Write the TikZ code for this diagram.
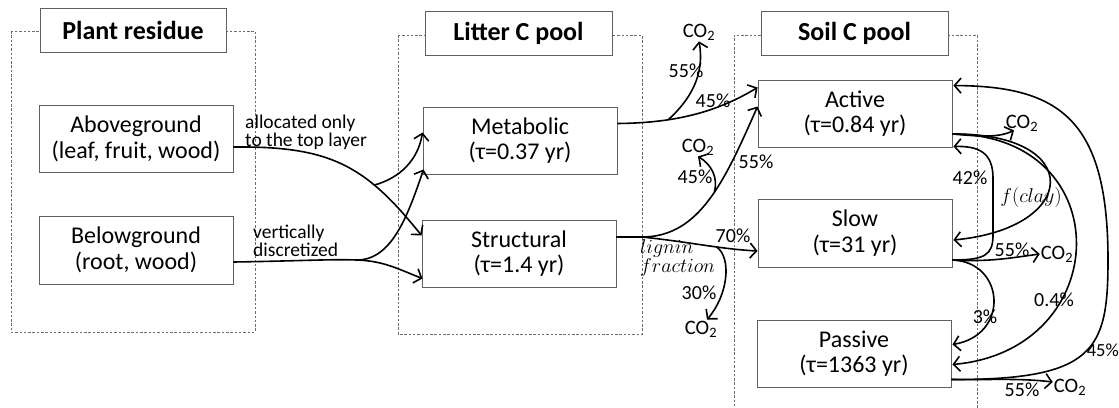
\documentclass[tikz,border=0pt]{standalone}
\usepackage{fix-cm}
\usepackage{fontspec}
\setmainfont{Carlito}
\usetikzlibrary{arrows.meta,calc}
\begin{document}
\begin{tikzpicture}[x=1pt,y=-1pt,
  frame/.style={draw=gray!85!black, line width=0.7pt, dash pattern=on 2.5pt off 1.8pt},
  titlebox/.style={draw=gray!75!black, line width=0.9pt, fill=white, minimum width=187pt, minimum height=44pt, font=\fontsize{26}{30}\selectfont\bfseries, inner sep=0pt},
  pool/.style={draw=gray!75!black, line width=0.9pt, fill=white, minimum width=194pt, minimum height=67pt, align=center, font=\fontsize{24}{25.5}\selectfont, inner sep=0pt},
  flow/.style={line width=1.6pt, -{Straight Barb[length=6.5pt,width=15pt]}},
  plain/.style={line width=1.6pt},
  lbl/.style={font=\fontsize{20}{20}\selectfont, inner sep=0pt},
  co2/.style={font=\fontsize{20.5}{20.5}\selectfont, inner sep=1pt},
  note/.style={font=\fontsize{19.5}{15}\selectfont, align=left, inner sep=0pt},
  mnote/.style={font=\fontsize{20}{17}\selectfont, align=left, inner sep=0pt},
]
\useasboundingbox (0,0) rectangle (1119,407);

% group frames
\draw[frame] (11,31) rectangle (255,332);
\draw[frame] (398,35) rectangle (642,334);
\draw[frame] (734,415) -- (734,35) -- (977,35) -- (977,415);

% titles
\node[titlebox, minimum width=186pt] (tplant) at (133,30.5) {Plant residue};
\node[titlebox] (tlitter) at (518.5,33) {Litter C pool};
\node[titlebox] (tsoil) at (854.5,33) {Soil C pool};

% pools
\node[pool] (ag) at (136,139) {Aboveground\\(leaf, fruit, wood)};
\node[pool, minimum height=68pt] (bg) at (136,250) {Belowground\\(root, wood)};
\node[pool] (met) at (520,140.5) {Metabolic\\(τ=0.37 yr)};
\node[pool] (str) at (519,253.5) {Structural\\(τ=1.4 yr)};
\node[pool] (act) at (855,113.5) {Active\\(τ=0.84 yr)};
\node[pool, minimum height=68pt] (slow) at (855,233) {Slow\\(τ=31 yr)};
\node[pool] (pas) at (854,353.5) {Passive\\(τ=1363 yr)};

% CO2 sinks
\node[co2] (co2a) at (699,32) {CO\textsubscript{2}};
\node[co2] (co2b) at (698,147) {CO\textsubscript{2}};
\node[co2] (co2c) at (701,329) {CO\textsubscript{2}};
\node[co2] (co2d) at (1022,123) {CO\textsubscript{2}};
\node[co2] (co2e) at (1057,254) {CO\textsubscript{2}};
\node[co2] (co2f) at (1070,387) {CO\textsubscript{2}};

% notes
\node[note, anchor=west] (nag) at (245,132) {allocated only\\to the top layer};
\node[note, anchor=west] (nbg) at (253,241) {vertically\\discretized};
\node[mnote, anchor=west] (nlig) at (640,258) {$lignin$\\$fraction$};

% plant residue -> litter
\draw[flow] ($(ag.east)+(0,8)$) .. controls (330,146) and (365,165) .. ($(str.west)+(0,-18)$) coordinate[pos=0.7] (agsplit);
\draw[flow] (agsplit) .. controls (400,178) and (418,160) .. ($(met.west)+(0,-8)$);
\draw[plain] ($(bg.east)+(0,12)$) .. controls (300,261) and (330,259) .. (357,260) coordinate (bgsplit);
\draw[flow] (bgsplit) .. controls (385,261) and (400,270) .. ($(str.west)+(1,25)$);
\draw[flow] (bgsplit) .. controls (392,260) and (408,215) .. ($(met.south west)+(1,-5)$);

% metabolic
\draw[flow] ($(met.east)+(0,-17)$) .. controls (680,123) and (720,110) .. ($(act.west)+(0,-26)$) coordinate[pos=0.3] (metsplit);
\draw[flow] (metsplit) .. controls (690,100) and (705,75) .. (co2a.south);
\node[lbl] (l55a) at (686,71) {55\%};
\node[lbl] (l45a) at (713,101) {45\%};

% structural
\coordinate (strsplit) at (642,237);
\draw[plain] ($(str.east)+(0,-16.5)$) -- (strsplit);
\draw[flow] (strsplit) .. controls (700,237) and (725,180) .. ($(act.west)+(0,-7)$) coordinate[pos=0.55] (strup);
\draw[flow] (strup) .. controls (718,178) and (712,165) .. (co2b.south);
\draw[flow] (strsplit) .. controls (690,242) and (720,249) .. ($(slow.west)+(0,18)$) coordinate[pos=0.62] (strdown);
\draw[flow] (strdown) .. controls (732,258) and (728,295) .. ($(co2c.north)+(6,0)$);
\node[lbl] (l45b) at (695,177) {45\%};
\node[lbl] (l55b) at (756,162) {55\%};
\node[lbl] (l70) at (733,236) {70\%};
\node[lbl] (l30) at (699,293) {30\%};

% soil pools
\coordinate (actout) at ($(act.east)+(0,20.5)$);
\draw[flow] (actout) .. controls (985,137) and (1000,137) .. ($(co2d.south)+(-8,-2)$);
\draw[flow] (actout) .. controls (1085,133) and (1080,228) .. ($(slow.east)+(1,7)$);
\draw[flow] (actout) .. controls (1120,135) and (1115,350) .. ($(pas.east)+(1,11)$);

\coordinate (slowout) at ($(slow.east)+(0,27)$);
\draw[flow] (slowout) .. controls (985,260) and (993,255) .. (993,235) -- (993,178) .. controls (993,152) and (978,146) .. ($(act.south east)+(1,-1)$);
\draw[flow] (slowout) .. controls (990,262) and (1010,258) .. (co2e.west);
\draw[flow] (slowout) .. controls (1005,262) and (1010,335) .. ($(pas.east)+(1,-9)$);

\coordinate (pasout) at ($(pas.east)+(0,26)$);
\draw[flow] (pasout) .. controls (990,380) and (1020,378) .. ($(co2f.west)+(0,-5)$);
\draw[flow] (pasout) .. controls (1095,380) and (1108,350) .. (1108,260) .. controls (1108,120) and (1060,86) .. ($(act.north east)+(1,6)$);

\node[lbl] (lclay) at (1031,197) {$f(clay)$};
\node[lbl] (l42) at (970,178) {42\%};
\node[lbl] (l04) at (1054,300) {0.4\%};
\node[lbl] (l55c) at (1012,250) {55\%};
\node[lbl] (l3) at (985,317) {3\%};
\node[lbl, anchor=east, font=\fontsize{18.5}{18.5}\selectfont] (l45c) at (1119,350) {45\%};
\node[lbl] (l55d) at (1022,390) {55\%};
\end{tikzpicture}
\end{document}
